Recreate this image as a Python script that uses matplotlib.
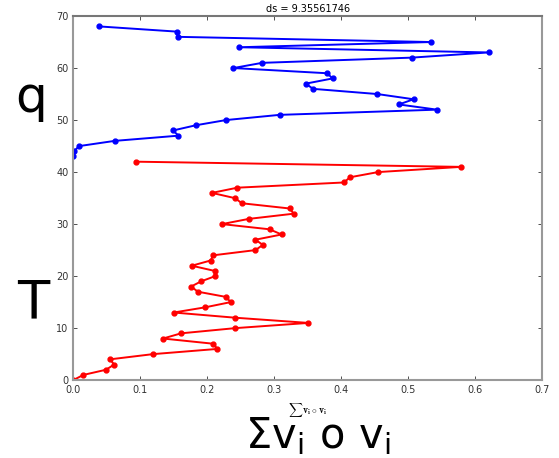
import numpy as np
from matplotlib import pyplot as plt

# Values (x = sum v_i o v_i, y = index)
t_y = list(range(0, 43))
t_x = [0.0, 0.015, 0.049, 0.061, 0.055, 0.119, 0.215, 0.209, 0.134, 0.161,
       0.242, 0.351, 0.242, 0.150, 0.197, 0.235, 0.228, 0.186, 0.176, 0.191,
       0.212, 0.211, 0.177, 0.205, 0.209, 0.272, 0.283, 0.272, 0.311, 0.293,
       0.222, 0.262, 0.329, 0.323, 0.252, 0.241, 0.207, 0.245, 0.404, 0.413,
       0.455, 0.579, 0.093]

q_y = list(range(43, 69))
q_x = [0.0, 0.001, 0.009, 0.062, 0.157, 0.149, 0.183, 0.228, 0.308, 0.543,
       0.486, 0.508, 0.454, 0.358, 0.347, 0.387, 0.379, 0.239, 0.282, 0.505,
       0.620, 0.248, 0.534, 0.156, 0.155, 0.039]

title = "ds = 9.35561746"

fig = plt.figure(figsize=(5.59, 4.58), dpi=100)
ax = fig.add_axes([0.131, 0.170, 0.839, 0.795])

ax.plot(q_x, q_y, color="blue", lw=1.4, marker="o", ms=3.5)
ax.plot(t_x, t_y, color="red", lw=1.4, marker="o", ms=3.5)

ax.set_xlim(0, 0.7)
ax.set_ylim(0, 70)
ax.set_xticks(np.arange(0, 0.71, 0.1))
ax.set_yticks(np.arange(0, 71, 10))
ax.tick_params(direction="in", top=True, right=True, labelsize=7,
               colors="#333333", length=3, width=0.6)
for s in ax.spines.values():
    s.set_color("#999999")
    s.set_linewidth(1.5)
ax.spines["top"].set_color("#777777")

ax.set_title(title, fontsize=7, pad=3)
ax.set_xlabel(r"$\sum\mathbf{v}_\mathbf{i}\circ\mathbf{v}_\mathbf{i}$",
              fontsize=7, math_fontfamily="cm", labelpad=4)

# Big labels
fig.text(0.055, 0.785, "q", fontsize=36, ha="center", va="center")
fig.text(0.060, 0.338, "T", fontsize=38, ha="center", va="center")
fig.text(0.568, 0.048, r"$\mathregular{\Sigma v_i\ o\ v_i}$", fontsize=30,
         ha="center", va="center")

fig.savefig("out.png", dpi=100)
